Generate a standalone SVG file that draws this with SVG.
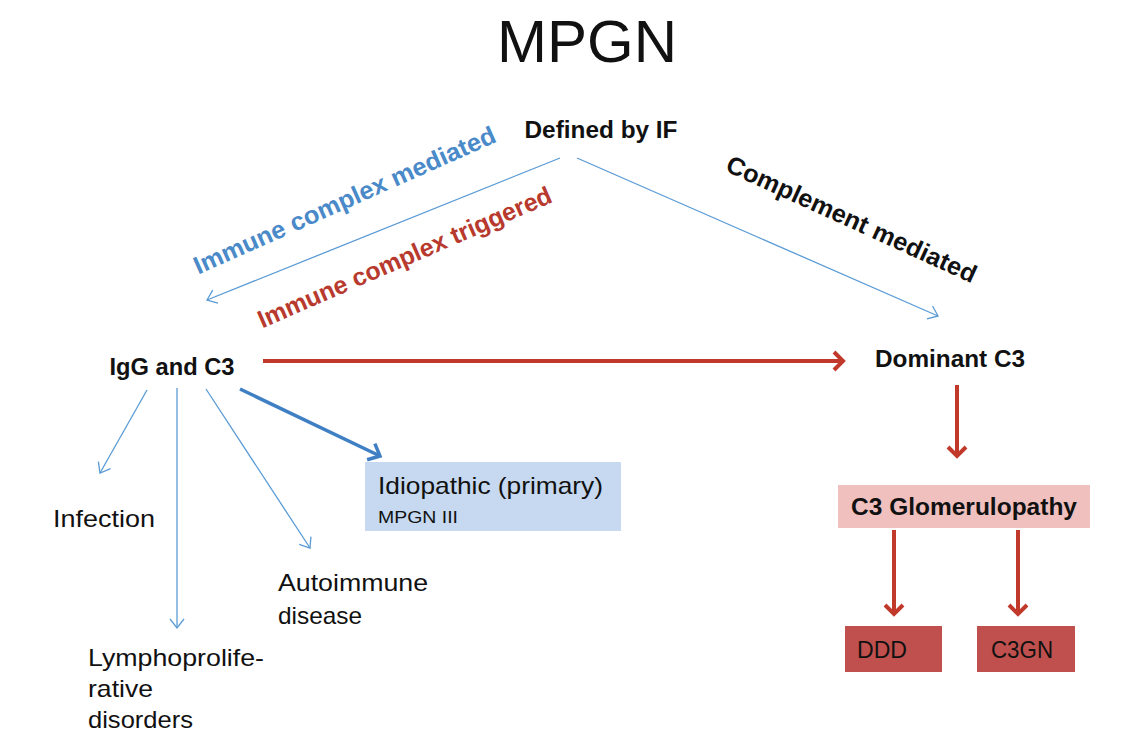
<svg xmlns="http://www.w3.org/2000/svg" width="1138" height="732" viewBox="0 0 1138 732">
<defs>
<style>
text{font-family:"Liberation Sans",Arial,sans-serif;fill:#111}
.b{font-weight:bold}
.lbl{font-size:25px}
.r{font-size:24px}
.thin{stroke:#5b9bd5;stroke-width:1.3;fill:none}
.thick{stroke:#3f7fc4;stroke-width:3.5;fill:none}
.red{stroke:#c0392b;stroke-width:4;fill:none}
</style>
<marker id="ab" markerUnits="userSpaceOnUse" markerWidth="20" markerHeight="20" refX="10" refY="10" orient="auto" overflow="visible">
<path d="M1,3 L10,10 L1,17" fill="none" stroke="#5b9bd5" stroke-width="1.3"/>
</marker>
<marker id="abt" markerUnits="userSpaceOnUse" markerWidth="24" markerHeight="24" refX="12" refY="12" orient="auto" overflow="visible">
<path d="M2,3 L12,12 L2,21" fill="none" stroke="#3f7fc4" stroke-width="3.5"/>
</marker>
<marker id="ar" markerUnits="userSpaceOnUse" markerWidth="24" markerHeight="24" refX="12" refY="12" orient="auto" overflow="visible">
<path d="M3,3 L12,12 L3,21" fill="none" stroke="#c0392b" stroke-width="4"/>
</marker>
</defs>
<rect width="1138" height="732" fill="#fff"/>
<g id="title"><text x="587" y="62" text-anchor="middle" font-size="60">MPGN</text></g>
<g id="connectors">
<line class="thin" x1="560" y1="158" x2="207" y2="300" marker-end="url(#ab)"/>
<line class="thin" x1="577" y1="158" x2="938" y2="316" marker-end="url(#ab)"/>
<line class="red" x1="263" y1="361" x2="843" y2="361" marker-end="url(#ar)"/>
<line class="red" x1="957" y1="385" x2="957" y2="456" marker-end="url(#ar)"/>
<line class="red" x1="894" y1="530" x2="894" y2="614" marker-end="url(#ar)"/>
<line class="red" x1="1018" y1="530" x2="1018" y2="614" marker-end="url(#ar)"/>
<line class="thin" x1="147" y1="390" x2="100" y2="473" marker-end="url(#ab)"/>
<line class="thin" x1="177" y1="388" x2="177" y2="628" marker-end="url(#ab)"/>
<line class="thin" x1="206" y1="389" x2="310" y2="548" marker-end="url(#ab)"/>
<line class="thick" x1="240" y1="389" x2="380" y2="456" marker-end="url(#abt)"/>
</g>
<g id="edge-labels">
<text class="b lbl" x="0" y="0" text-anchor="middle" style="fill:#4a8ac9" transform="translate(348,208) rotate(-24)" textLength="328" lengthAdjust="spacingAndGlyphs">Immune complex mediated</text>
<text class="b lbl" x="0" y="0" text-anchor="middle" style="fill:#b83a2e" transform="translate(408,265) rotate(-23.5)" textLength="318" lengthAdjust="spacingAndGlyphs">Immune complex triggered</text>
<text class="b lbl" x="0" y="0" text-anchor="middle" transform="translate(848,227) rotate(24.5)" textLength="272" lengthAdjust="spacingAndGlyphs">Complement mediated</text>
</g>
<g id="defined"><text class="b" x="601" y="138" text-anchor="middle" font-size="24" textLength="153" lengthAdjust="spacingAndGlyphs">Defined by IF</text></g>
<g id="igg"><text class="b" x="172" y="375" text-anchor="middle" font-size="24" textLength="125" lengthAdjust="spacingAndGlyphs">IgG and C3</text></g>
<g id="dominant"><text class="b" x="950" y="367" text-anchor="middle" font-size="24" textLength="150" lengthAdjust="spacingAndGlyphs">Dominant C3</text></g>
<g id="c3g">
<rect x="838" y="485" width="252" height="43" fill="#f0c0bf"/>
<text class="b" x="964" y="515" text-anchor="middle" font-size="24" textLength="226" lengthAdjust="spacingAndGlyphs">C3 Glomerulopathy</text>
</g>
<g id="ddd">
<rect x="845" y="626" width="97" height="46" fill="#c0504d"/>
<text class="r" x="857" y="658" textLength="50" lengthAdjust="spacingAndGlyphs">DDD</text>
</g>
<g id="c3gn">
<rect x="977" y="626" width="98" height="46" fill="#c0504d"/>
<text class="r" x="991" y="658" textLength="62" lengthAdjust="spacingAndGlyphs">C3GN</text>
</g>
<g id="idiopathic">
<rect x="365" y="462" width="256" height="69" fill="#c6d9f0"/>
<text class="r" x="378" y="494" textLength="225" lengthAdjust="spacingAndGlyphs">Idiopathic (primary)</text>
<text x="378" y="523" font-size="17" textLength="80" lengthAdjust="spacingAndGlyphs">MPGN III</text>
</g>
<g id="infection"><text class="r" x="53" y="527" textLength="102" lengthAdjust="spacingAndGlyphs">Infection</text></g>
<g id="autoimmune">
<text class="r" x="278" y="591" textLength="150" lengthAdjust="spacingAndGlyphs">Autoimmune</text>
<text class="r" x="278" y="624" textLength="84" lengthAdjust="spacingAndGlyphs">disease</text>
</g>
<g id="lympho">
<text class="r" x="88" y="666" textLength="176" lengthAdjust="spacingAndGlyphs">Lymphoprolife-</text>
<text class="r" x="88" y="697" textLength="65" lengthAdjust="spacingAndGlyphs">rative</text>
<text class="r" x="88" y="728" textLength="105" lengthAdjust="spacingAndGlyphs">disorders</text>
</g>
</svg>
